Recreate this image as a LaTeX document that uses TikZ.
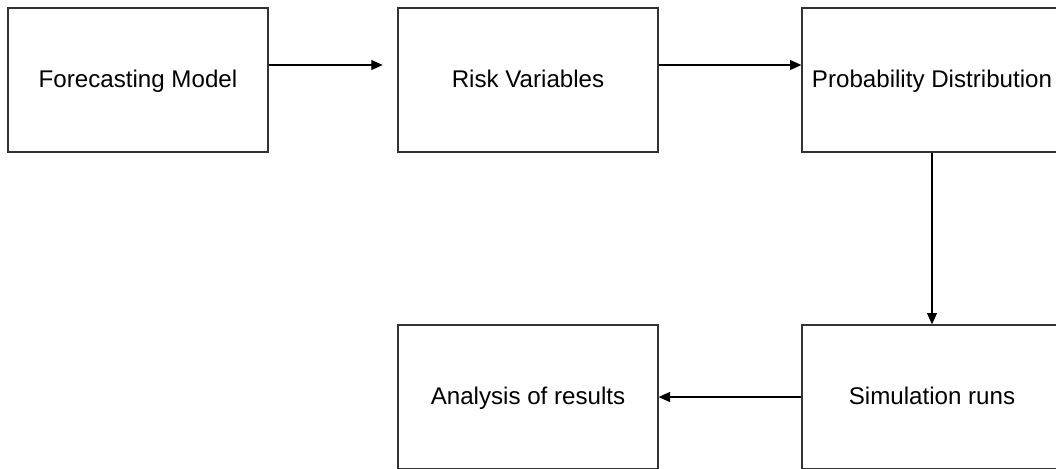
\documentclass[tikz,border=0pt]{standalone}
\usepackage{fontspec}
\setmainfont{Liberation Sans}
\usetikzlibrary{arrows.meta}
\begin{document}
\begin{tikzpicture}[x=0.75pt,y=-0.75pt,
  stepbox/.style={draw=black!80,line width=1pt,minimum width=195pt,minimum height=108pt,
    inner sep=0pt,text height=14pt,text depth=3.5pt,font=\fontsize{18.1}{21}\selectfont},
  flow/.style={draw=black,line width=0.8pt,-{Triangle[length=8.5pt,width=7.5pt]}}]
\clip (0,0) rectangle (1056,468);
\fill[white] (0,0) rectangle (1056,468);
\node[stepbox] (fm) at (138,80) {Forecasting Model};
\node[stepbox] (rv) at (528,80) {Risk Variables};
\node[stepbox] (pd) at (932,80) {Probability Distribution};
\node[stepbox] (sr) at (932,397) {Simulation runs};
\node[stepbox] (ar) at (528,397) {Analysis of results};
\draw[flow,shorten >=11pt] ([yshift=11.25pt]fm.east) -- ([yshift=11.25pt]rv.west);
\draw[flow] ([yshift=11.25pt]rv.east) -- ([yshift=11.25pt]pd.west);
\draw[flow] (pd.south) -- (sr.north);
\draw[flow] (sr.west) -- (ar.east);
\end{tikzpicture}
\end{document}
